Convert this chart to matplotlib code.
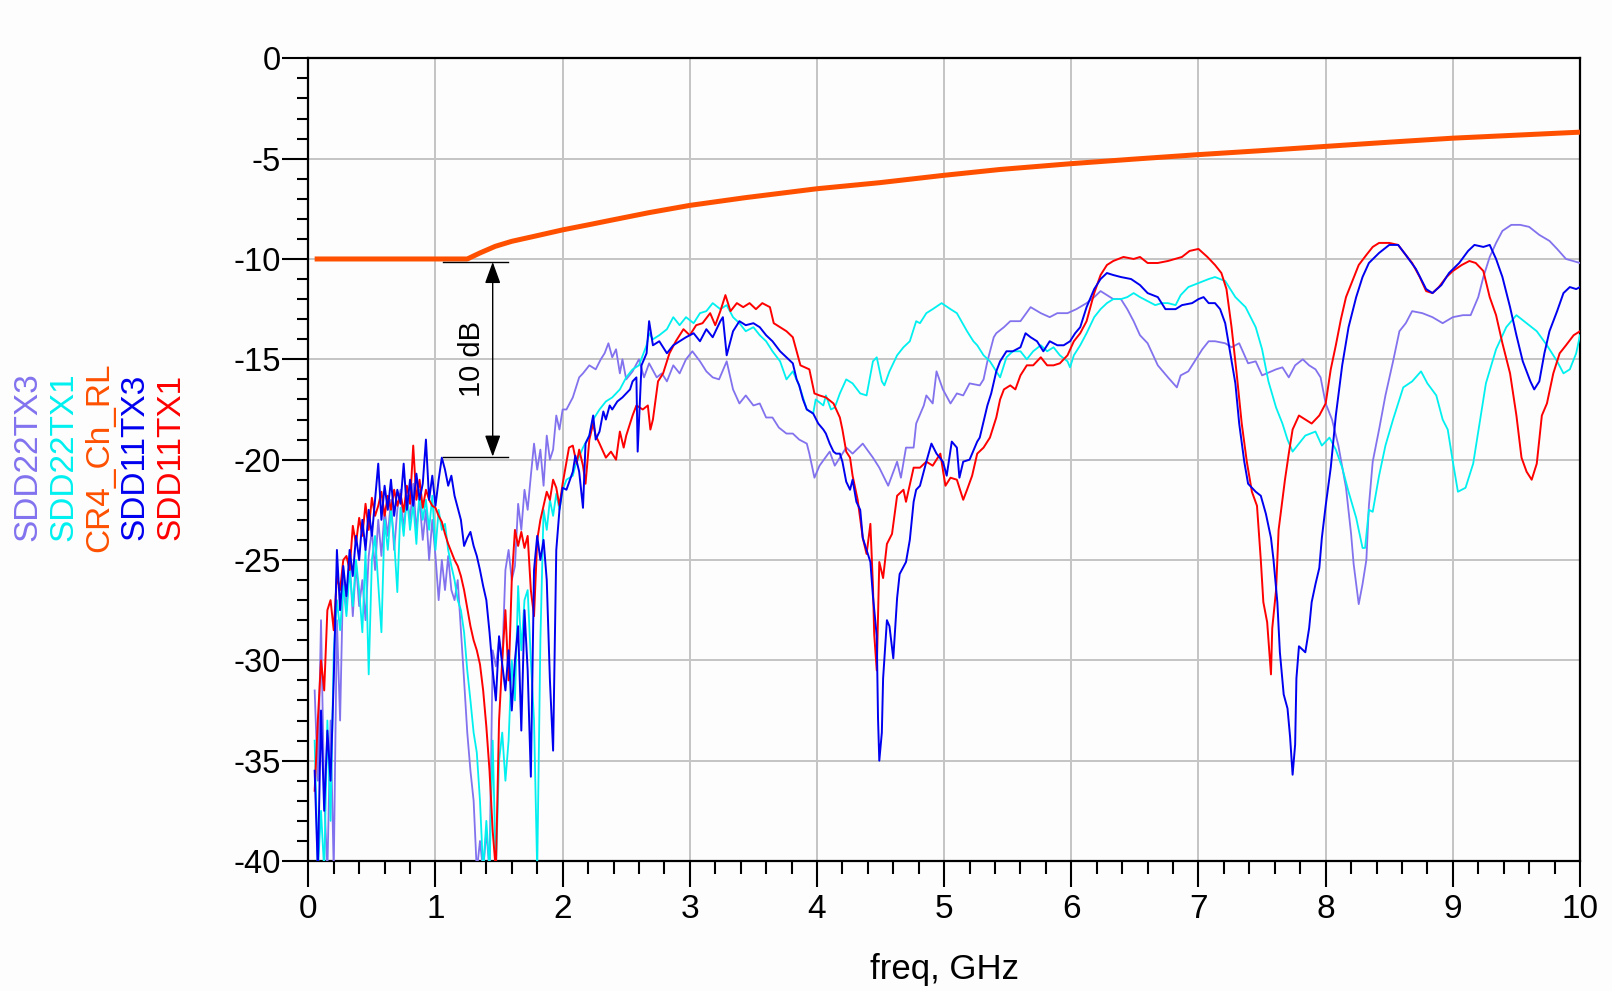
import numpy as np
import matplotlib
matplotlib.use("Agg")
import matplotlib.pyplot as plt
from matplotlib.ticker import MultipleLocator

plt.rcParams['font.family'] = ['Liberation Sans', 'DejaVu Sans']
plt.rcParams['axes.unicode_minus'] = False

# ---------------- data ----------------
X_TICKS = [0, 1, 2, 3, 4, 5, 6, 7, 8, 9, 10]
Y_TICKS = [0, -5, -10, -15, -20, -25, -30, -35, -40]
SERIES_NAMES = ["SDD22TX3", "SDD22TX1", "CR4_Ch_RL", "SDD11TX3", "SDD11TX1"]

# low band 0.05 .. 2.0 GHz, 0.025 GHz steps
SDD11TX1_LO = [-36.5, -33.0, -30.0, -31.5, -27.5, -27.0, -28.5, -25.8, -26.5, -25.0,
               -24.8, -25.5, -23.3, -24.2, -22.9, -23.8, -22.2, -23.5, -21.9, -22.8,
               -22.3, -21.6, -22.8, -21.8, -22.5, -21.5, -22.3, -21.7, -22.6, -21.3,
               -22.2, -19.3, -22.0, -21.0, -22.4, -21.5, -22.0, -22.3, -22.4, -22.8,
               -23.1, -23.7, -24.2, -24.6, -25.0, -25.3, -25.8, -26.5, -27.4, -28.3,
               -29.0, -29.5, -30.2, -31.5, -33.3, -35.5, -38.5, -40.5, -33.0, -30.0,
               -27.5, -31.0, -26.0, -23.5, -24.3, -23.6, -24.4, -23.8, -26.5, -27.8,
               -24.0, -23.0, -22.3, -21.6, -22.0, -21.0, -21.4, -22.3, -21.2]
SDD11TX3_LO = [-35.5, -40.5, -32.5, -37.5, -33.5, -36.0, -31.0, -24.5, -27.5, -25.3,
               -26.8, -24.5, -25.8, -23.8, -25.0, -23.0, -24.5, -22.5, -23.8, -22.0,
               -20.2, -23.0, -21.3, -22.5, -21.0, -22.8, -21.5, -22.2, -20.2, -22.5,
               -21.0, -22.3, -20.7, -22.0, -21.2, -19.0, -22.0, -20.8, -22.3, -21.0,
               -19.9, -20.5, -21.3, -20.8, -21.8, -22.4, -23.0, -24.3, -23.9, -23.6,
               -24.3, -24.8, -25.5, -26.3, -27.0, -28.6, -30.5, -32.0, -28.8, -30.2,
               -31.5, -29.5, -32.5, -30.0, -28.3, -33.5, -27.5, -30.5, -35.8, -25.5,
               -23.8, -25.0, -24.0, -26.0, -31.0, -34.5, -24.5, -22.5, -21.4]
SDD22TX1_LO = [-34.0, -40.5, -37.5, -40.5, -33.0, -38.0, -29.6, -27.0, -28.5, -26.3,
               -27.8, -25.5, -27.3, -25.0, -26.5, -28.6, -24.5, -30.7, -25.0, -23.8,
               -26.2, -28.6, -23.0, -24.5, -22.5, -24.0, -26.6, -22.4, -23.8, -21.8,
               -23.5, -22.2, -24.2, -21.5, -23.0, -22.0, -23.5, -21.8, -24.5, -22.5,
               -23.5, -23.2, -24.5, -25.3, -26.0, -27.0, -27.5, -28.6, -30.5, -32.0,
               -33.6, -34.6, -37.0, -40.5, -38.0, -40.5, -34.0, -40.5, -35.0, -33.6,
               -36.0, -34.0, -30.0, -32.0, -26.3, -29.5, -27.0, -26.5, -30.0, -33.0,
               -40.5, -29.0, -22.5, -23.5, -22.0, -22.8, -21.7, -22.5, -21.5]
SDD22TX3_LO = [-31.5, -36.0, -28.0, -36.8, -40.5, -33.0, -40.5, -28.0, -33.0, -25.5,
               -27.5, -25.0, -27.8, -25.2, -27.3, -26.0, -28.0, -24.8, -23.5, -25.5,
               -23.0, -24.8, -22.5, -23.8, -22.0, -24.5, -22.5, -21.5, -23.5, -21.8,
               -23.0, -21.2, -23.5, -22.0, -24.0, -22.5, -25.0, -23.0, -24.8, -27.0,
               -25.0, -26.5, -24.8, -26.5, -27.0, -26.0, -28.5, -31.0, -33.6, -35.5,
               -37.0, -40.5, -39.0, -40.5, -38.5, -40.5, -29.5, -30.3, -29.0, -30.0,
               -25.5, -24.5, -26.0, -25.3, -22.2, -23.5, -21.5, -22.5, -20.8, -19.2,
               -20.5, -19.5, -21.3, -18.8, -20.0, -19.5, -17.8, -18.5, -17.5]

# high band (> 2 GHz), read point by point
SDD11TX1_F_HI = [2.05, 2.08, 2.11, 2.13, 2.16, 2.18, 2.21, 2.24, 2.26, 2.29, 2.34, 2.38, 2.42, 2.45, 2.48,
                 2.5, 2.55, 2.58, 2.63, 2.67, 2.69, 2.71, 2.75, 2.79, 2.84, 2.89, 2.95, 3.0, 3.05, 3.1,
                 3.16, 3.2, 3.24, 3.28, 3.32, 3.37, 3.42, 3.47, 3.52, 3.57, 3.63, 3.66, 3.71, 3.76, 3.81,
                 3.84, 3.87, 3.94, 3.98, 4.02, 4.07, 4.13, 4.18, 4.2, 4.23, 4.26, 4.28, 4.32, 4.36, 4.39,
                 4.42, 4.44, 4.45, 4.47, 4.49, 4.52, 4.55, 4.59, 4.63, 4.68, 4.7, 4.76, 4.81, 4.86, 4.91,
                 4.97, 5.01, 5.05, 5.1, 5.15, 5.18, 5.22, 5.26, 5.31, 5.36, 5.41, 5.44, 5.47, 5.52, 5.56,
                 5.6, 5.65, 5.7, 5.76, 5.81, 5.86, 5.91, 5.97, 6.02, 6.07, 6.12, 6.18, 6.23, 6.28, 6.33,
                 6.41, 6.49, 6.54, 6.6, 6.68, 6.76, 6.87, 6.93, 7.0, 7.07, 7.13, 7.18, 7.22, 7.26, 7.3,
                 7.34, 7.38, 7.42, 7.46, 7.49, 7.51, 7.54, 7.57, 7.58, 7.61, 7.63, 7.66, 7.68, 7.71, 7.74,
                 7.79, 7.84, 7.89, 7.95, 8.0, 8.04, 8.08, 8.12, 8.16, 8.21, 8.26, 8.32, 8.37, 8.42, 8.5,
                 8.57, 8.63, 8.68, 8.74, 8.79, 8.84, 8.89, 8.95, 9.0, 9.07, 9.13, 9.18, 9.24, 9.29, 9.34,
                 9.39, 9.45, 9.5, 9.54, 9.58, 9.62, 9.66, 9.7, 9.74, 9.79, 9.84, 9.89, 9.95, 10.0]
SDD11TX1_DB_HI = [-19.4, -19.3, -20.2, -19.5, -20.3, -21.2, -19.0, -18.2, -18.8, -19.2, -19.9, -19.6, -20.0, -18.6, -19.4,
                  -18.8, -17.8, -17.3, -17.5, -17.3, -18.5, -18.0, -16.1, -15.7, -14.7, -14.1, -13.5, -13.8, -13.3, -13.2,
                  -12.7, -13.3, -12.6, -11.8, -12.6, -12.2, -12.4, -12.2, -12.5, -12.2, -12.4, -13.2, -13.4, -13.6, -13.9,
                  -14.6, -15.3, -15.5, -16.7, -16.8, -16.9, -17.2, -17.9, -18.5, -19.6, -19.9, -20.8, -22.0, -23.9, -24.7,
                  -23.2, -26.3, -28.7, -30.5, -25.1, -25.9, -24.2, -23.7, -21.8, -21.5, -22.1, -20.4, -20.4, -20.1, -20.3,
                  -19.7, -21.3, -20.9, -21.0, -22.0, -21.5, -20.8, -19.7, -19.4, -18.9, -17.9, -17.0, -16.5, -16.3, -16.5,
                  -15.8, -15.3, -15.3, -14.9, -15.3, -15.3, -15.2, -14.8, -14.1, -13.7, -13.1, -11.7, -10.8, -10.3, -10.1,
                  -9.9, -10.0, -9.9, -10.2, -10.2, -10.1, -9.9, -9.6, -9.5, -9.9, -10.3, -10.7, -11.5, -13.4, -15.7,
                  -18.2, -20.1, -21.6, -22.3, -25.0, -27.1, -28.1, -30.7, -28.4, -26.5, -23.5, -22.0, -21.0, -19.7, -18.5,
                  -17.8, -18.0, -18.2, -17.8, -17.2, -15.5, -14.3, -13.0, -11.9, -11.1, -10.3, -9.8, -9.4, -9.2, -9.2,
                  -9.3, -9.8, -10.2, -10.9, -11.6, -11.7, -11.4, -10.9, -10.6, -10.3, -10.1, -10.2, -10.6, -11.9, -12.8,
                  -14.2, -15.7, -17.8, -19.9, -20.6, -21.0, -20.2, -17.8, -17.2, -15.7, -14.7, -14.3, -13.8, -13.6]

SDD11TX3_F_HI = [2.03, 2.08, 2.1, 2.13, 2.16, 2.18, 2.21, 2.24, 2.26, 2.29, 2.32, 2.34, 2.37, 2.39, 2.43,
                 2.47, 2.53, 2.55, 2.58, 2.59, 2.62, 2.66, 2.68, 2.71, 2.76, 2.82, 2.87, 2.92, 2.97, 3.03,
                 3.08, 3.13, 3.18, 3.24, 3.26, 3.29, 3.34, 3.39, 3.44, 3.5, 3.55, 3.6, 3.65, 3.71, 3.76,
                 3.81, 3.84, 3.86, 3.89, 3.92, 3.97, 4.01, 4.05, 4.07, 4.1, 4.13, 4.15, 4.18, 4.2, 4.23,
                 4.26, 4.28, 4.31, 4.34, 4.36, 4.39, 4.42, 4.44, 4.47, 4.48, 4.49, 4.51, 4.52, 4.55, 4.57,
                 4.6, 4.63, 4.65, 4.7, 4.73, 4.76, 4.78, 4.81, 4.86, 4.9, 4.94, 4.99, 5.02, 5.06, 5.1,
                 5.12, 5.15, 5.2, 5.26, 5.28, 5.34, 5.37, 5.41, 5.44, 5.49, 5.54, 5.6, 5.64, 5.68, 5.73,
                 5.78, 5.83, 5.89, 5.94, 5.99, 6.03, 6.07, 6.12, 6.18, 6.23, 6.28, 6.33, 6.39, 6.47, 6.54,
                 6.6, 6.68, 6.74, 6.82, 6.87, 6.95, 7.0, 7.04, 7.08, 7.13, 7.17, 7.21, 7.25, 7.29, 7.32,
                 7.36, 7.39, 7.45, 7.49, 7.53, 7.57, 7.59, 7.62, 7.64, 7.67, 7.7, 7.72, 7.74, 7.76, 7.77,
                 7.79, 7.84, 7.87, 7.89, 7.92, 7.95, 7.97, 8.0, 8.04, 8.08, 8.13, 8.18, 8.24, 8.29, 8.34,
                 8.42, 8.5, 8.57, 8.63, 8.71, 8.79, 8.84, 8.91, 8.97, 9.05, 9.12, 9.17, 9.24, 9.29, 9.34,
                 9.39, 9.45, 9.5, 9.55, 9.61, 9.64, 9.68, 9.72, 9.76, 9.82, 9.87, 9.92, 9.97, 10.0]
SDD11TX3_DB_HI = [-21.5, -20.6, -19.8, -20.6, -22.4, -19.2, -18.8, -17.8, -19.0, -18.6, -17.6, -18.0, -17.3, -17.5, -17.1,
                  -16.9, -16.5, -16.1, -15.9, -19.6, -15.3, -14.7, -13.1, -14.3, -14.1, -14.7, -14.3, -14.1, -13.9, -13.7,
                  -14.1, -13.5, -13.9, -13.1, -12.9, -14.8, -13.6, -13.1, -13.3, -13.2, -13.4, -13.8, -14.1, -14.6, -14.9,
                  -15.2, -16.0, -16.3, -17.0, -17.5, -17.7, -18.2, -18.5, -18.7, -19.2, -19.6, -19.7, -19.7, -20.1, -21.1,
                  -21.5, -21.0, -22.1, -22.5, -23.9, -24.5, -25.1, -26.8, -28.8, -32.9, -35.0, -33.6, -30.9, -28.0, -28.3,
                  -29.9, -26.9, -25.7, -25.1, -24.0, -22.1, -21.5, -21.3, -20.1, -19.2, -19.7, -20.1, -20.8, -19.1, -19.4,
                  -20.9, -20.1, -20.0, -19.1, -18.9, -17.3, -16.7, -15.6, -15.1, -14.6, -14.6, -14.4, -13.7, -13.9, -14.1,
                  -14.6, -14.1, -14.3, -14.3, -14.1, -13.7, -13.4, -12.4, -11.5, -11.0, -10.7, -10.8, -10.9, -11.0, -11.3,
                  -11.7, -11.9, -12.5, -12.5, -12.3, -12.2, -12.0, -11.9, -12.2, -12.2, -12.5, -13.2, -14.7, -16.2, -18.2,
                  -20.1, -21.2, -21.6, -21.8, -22.7, -23.9, -25.0, -27.1, -29.6, -31.7, -32.4, -33.8, -35.7, -34.2, -30.9,
                  -29.3, -29.6, -28.4, -27.1, -26.2, -25.4, -23.9, -22.3, -20.4, -17.8, -15.3, -13.4, -11.9, -10.9, -10.2,
                  -9.7, -9.3, -9.3, -9.8, -10.5, -11.5, -11.7, -11.3, -10.7, -10.2, -9.6, -9.3, -9.4, -9.3, -10.0,
                  -10.9, -12.4, -13.8, -15.1, -16.1, -16.5, -16.1, -14.7, -13.6, -12.6, -11.7, -11.4, -11.5, -11.4]

SDD22TX1_F_HI = [2.03, 2.08, 2.1, 2.16, 2.21, 2.24, 2.29, 2.34, 2.39, 2.45, 2.5, 2.55, 2.6, 2.66, 2.68,
                 2.71, 2.76, 2.82, 2.87, 2.92, 2.97, 3.03, 3.08, 3.13, 3.18, 3.24, 3.29, 3.34, 3.39, 3.44,
                 3.5, 3.55, 3.6, 3.65, 3.71, 3.76, 3.81, 3.86, 3.92, 3.97, 3.99, 4.05, 4.07, 4.11, 4.14,
                 4.18, 4.23, 4.28, 4.34, 4.39, 4.44, 4.47, 4.51, 4.53, 4.57, 4.63, 4.68, 4.73, 4.78, 4.81,
                 4.86, 4.91, 4.98, 5.05, 5.1, 5.18, 5.23, 5.26, 5.31, 5.36, 5.41, 5.44, 5.49, 5.54, 5.6,
                 5.65, 5.7, 5.76, 5.81, 5.86, 5.91, 5.97, 5.99, 6.02, 6.07, 6.12, 6.18, 6.23, 6.28, 6.33,
                 6.39, 6.44, 6.49, 6.54, 6.6, 6.66, 6.71, 6.76, 6.82, 6.86, 6.92, 7.0, 7.08, 7.13, 7.21,
                 7.29, 7.37, 7.45, 7.5, 7.55, 7.61, 7.66, 7.7, 7.74, 7.79, 7.84, 7.92, 7.97, 8.03, 8.08,
                 8.13, 8.18, 8.24, 8.29, 8.31, 8.34, 8.37, 8.42, 8.47, 8.53, 8.61, 8.68, 8.75, 8.8, 8.87,
                 8.92, 8.96, 9.0, 9.04, 9.1, 9.16, 9.21, 9.26, 9.34, 9.42, 9.5, 9.58, 9.66, 9.74, 9.82,
                 9.87, 9.92, 9.97, 10.0]
SDD22TX1_DB_HI = [-21.0, -20.8, -20.3, -19.4, -18.8, -18.0, -17.5, -17.1, -16.9, -16.5, -15.9, -15.5, -15.3, -14.3, -13.7,
                  -14.0, -13.8, -13.5, -12.9, -13.3, -12.9, -13.2, -12.7, -12.6, -12.2, -12.5, -12.3, -12.9, -13.2, -13.6,
                  -13.4, -13.8, -14.1, -14.6, -15.1, -16.0, -15.6, -16.3, -17.5, -17.7, -17.0, -17.3, -16.8, -17.5, -17.4,
                  -16.7, -16.0, -16.2, -16.7, -16.8, -15.1, -14.9, -16.1, -16.3, -15.6, -14.8, -14.4, -14.1, -13.1, -13.2,
                  -12.7, -12.5, -12.2, -12.5, -12.7, -13.6, -14.1, -14.3, -14.8, -15.1, -15.6, -15.9, -14.9, -14.6, -14.6,
                  -15.0, -14.6, -14.3, -14.6, -14.4, -14.8, -15.1, -15.4, -14.8, -14.3, -13.7, -12.9, -12.5, -12.2, -12.0,
                  -12.0, -11.9, -11.7, -11.9, -12.1, -12.3, -12.2, -12.2, -12.3, -11.8, -11.4, -11.2, -11.0, -10.9, -11.1,
                  -11.9, -12.4, -13.4, -14.5, -16.1, -17.4, -18.2, -19.0, -19.6, -19.2, -18.8, -18.6, -19.3, -18.9, -19.5,
                  -20.4, -21.6, -22.9, -24.4, -24.4, -22.5, -22.6, -20.8, -19.3, -18.0, -16.4, -16.1, -15.6, -16.2, -16.8,
                  -18.0, -18.5, -20.1, -21.6, -21.4, -20.2, -18.2, -16.2, -14.5, -13.4, -12.8, -13.2, -13.6, -14.3, -15.1,
                  -15.7, -15.5, -14.7, -13.8]

SDD22TX3_F_HI = [2.03, 2.08, 2.13, 2.16, 2.21, 2.26, 2.3, 2.33, 2.36, 2.39, 2.42, 2.45, 2.47, 2.5, 2.55,
                 2.6, 2.64, 2.68, 2.74, 2.78, 2.82, 2.87, 2.92, 2.97, 3.02, 3.08, 3.13, 3.18, 3.23, 3.29,
                 3.34, 3.39, 3.44, 3.5, 3.55, 3.6, 3.65, 3.7, 3.76, 3.81, 3.86, 3.92, 3.94, 3.98, 4.02,
                 4.1, 4.14, 4.18, 4.23, 4.28, 4.36, 4.44, 4.49, 4.56, 4.63, 4.66, 4.7, 4.76, 4.78, 4.84,
                 4.86, 4.91, 4.94, 4.99, 5.05, 5.1, 5.15, 5.2, 5.28, 5.31, 5.34, 5.39, 5.41, 5.47, 5.52,
                 5.6, 5.68, 5.76, 5.83, 5.89, 5.97, 6.04, 6.12, 6.18, 6.23, 6.28, 6.33, 6.39, 6.44, 6.49,
                 6.54, 6.6, 6.68, 6.76, 6.83, 6.86, 6.92, 6.97, 7.03, 7.08, 7.13, 7.21, 7.26, 7.32, 7.39,
                 7.45, 7.5, 7.61, 7.66, 7.71, 7.76, 7.82, 7.87, 7.92, 7.96, 8.0, 8.05, 8.1, 8.16, 8.2,
                 8.22, 8.26, 8.29, 8.32, 8.34, 8.37, 8.42, 8.47, 8.53, 8.58, 8.63, 8.68, 8.76, 8.84, 8.92,
                 9.0, 9.08, 9.14, 9.2, 9.24, 9.29, 9.34, 9.39, 9.46, 9.53, 9.6, 9.68, 9.76, 9.82, 9.89,
                 10.0]
SDD22TX3_DB_HI = [-17.5, -16.9, -15.9, -15.7, -15.3, -15.5, -15.0, -14.7, -14.2, -14.9, -14.5, -15.7, -15.0, -16.0, -15.6,
                  -15.0, -15.9, -15.2, -15.9, -15.7, -16.1, -15.3, -15.7, -15.0, -14.6, -15.1, -15.6, -15.9, -16.0, -15.1,
                  -16.5, -17.2, -16.8, -17.3, -17.2, -17.9, -17.9, -18.4, -18.7, -18.7, -19.0, -19.2, -19.7, -20.9, -20.3,
                  -19.6, -20.3, -19.9, -19.4, -19.7, -19.2, -19.9, -20.4, -21.3, -20.1, -20.9, -19.4, -19.4, -18.2, -17.3,
                  -16.8, -17.2, -15.6, -16.5, -17.2, -16.7, -16.8, -16.2, -16.3, -16.0, -15.1, -13.9, -13.7, -13.4, -13.1,
                  -13.1, -12.4, -12.7, -12.9, -12.7, -12.7, -12.5, -12.2, -11.9, -11.6, -11.8, -12.0, -12.0, -12.5, -13.1,
                  -13.8, -14.2, -15.3, -15.9, -16.4, -15.8, -15.6, -15.1, -14.5, -14.1, -14.1, -14.2, -14.4, -14.2, -15.2,
                  -15.1, -15.8, -15.5, -15.4, -15.9, -15.3, -15.0, -15.3, -15.5, -15.9, -17.2, -18.0, -19.3, -21.4, -23.7,
                  -25.2, -27.2, -26.2, -25.0, -22.3, -20.1, -18.5, -16.8, -15.1, -13.6, -13.2, -12.6, -12.7, -12.9, -13.2,
                  -12.9, -12.8, -12.8, -11.9, -10.9, -9.9, -9.2, -8.6, -8.3, -8.3, -8.4, -8.8, -9.1, -9.5, -10.0,
                  -10.2]

CR4_F = [0.05, 0.5, 1.0, 1.25, 1.35, 1.47, 1.6, 1.77, 2.0, 2.2, 2.38, 2.68, 3.0, 3.43, 4.0,
         4.49, 5.0, 5.44, 6.0, 6.5, 7.0, 7.5, 8.0, 8.5, 9.0, 9.5, 10.0]
CR4_DB = [-10.0, -10.0, -10.0, -10.0, -9.7, -9.37, -9.12, -8.88, -8.55, -8.3, -8.07, -7.69, -7.33, -6.95, -6.5,
          -6.2, -5.83, -5.54, -5.25, -5.02, -4.8, -4.6, -4.39, -4.18, -3.98, -3.83, -3.68]

COLORS = {"SDD22TX3": "#8272ee", "SDD22TX1": "#00f0f0", "CR4_Ch_RL": "#ff5000",
          "SDD11TX3": "#0000f0", "SDD11TX1": "#ff0000"}


def full_series(lo, f_hi, db_hi):
    f_lo = np.linspace(0.05, 2.0, len(lo))
    return np.concatenate([f_lo, np.asarray(f_hi)]), np.concatenate([np.asarray(lo), np.asarray(db_hi)])


W, H = 1612, 991
fig = plt.figure(figsize=(W / 100, H / 100), dpi=100)
bg = "#fcfdfc"
fig.patch.set_facecolor(bg)
L, R, T, B = 308.3, 1580.0, 58.3, 861.0
ax = fig.add_axes([L / W, 1 - B / H, (R - L) / W, (B - T) / H])
ax.set_facecolor(bg)

ax.set_xlim(0, 10)
ax.set_ylim(-40, 0)
ax.set_xticks(X_TICKS)
ax.set_yticks(Y_TICKS)
ax.set_xticklabels([str(v) for v in X_TICKS])
ax.set_yticklabels([str(v) for v in Y_TICKS])
ax.xaxis.set_minor_locator(MultipleLocator(0.2))
ax.yaxis.set_minor_locator(MultipleLocator(1))
ax.tick_params(axis='both', which='major', direction='out', length=18.5, width=1.5, color='black')
ax.tick_params(axis='y', which='major', labelsize=23.5, pad=1)
ax.tick_params(axis='x', which='major', labelsize=24, pad=5)
ax.tick_params(axis='y', which='minor', direction='out', length=8, width=1.5)
ax.tick_params(axis='x', which='minor', direction='out', length=9.5, width=1.5)
for s in ax.spines.values():
    s.set_linewidth(1.6)
    s.set_color('black')
ax.grid(True, which='major', color='#c4c4c4', linewidth=1.4)
ax.set_axisbelow(True)

# traces
f, d = full_series(SDD22TX3_LO, SDD22TX3_F_HI, SDD22TX3_DB_HI)
ax.plot(f, d, color=COLORS["SDD22TX3"], lw=1.3, zorder=3)
f, d = full_series(SDD22TX1_LO, SDD22TX1_F_HI, SDD22TX1_DB_HI)
ax.plot(f, d, color=COLORS["SDD22TX1"], lw=1.3, zorder=3)
f, d = full_series(SDD11TX1_LO, SDD11TX1_F_HI, SDD11TX1_DB_HI)
ax.plot(f, d, color=COLORS["SDD11TX1"], lw=1.4, zorder=4)
f, d = full_series(SDD11TX3_LO, SDD11TX3_F_HI, SDD11TX3_DB_HI)
ax.plot(f, d, color=COLORS["SDD11TX3"], lw=1.4, zorder=5)
ax.plot(CR4_F, CR4_DB, color=COLORS["CR4_Ch_RL"], lw=3.6, zorder=6, solid_capstyle='butt')

# 10 dB annotation
ax.plot([1.06, 1.57], [-10.15, -10.15], color='black', lw=1.0, zorder=7)
ax.plot([1.06, 1.57], [-19.85, -19.85], color='black', lw=1.0, zorder=7)
ax.annotate('', xy=(1.45, -10.15), xytext=(1.45, -19.85),
            arrowprops=dict(arrowstyle='<|-|>,head_length=0.55,head_width=0.2',
                            mutation_scale=24, color='black', lw=1.0,
                            shrinkA=0, shrinkB=0), zorder=7)
ax.text(1.285, -15.0, '10 dB', rotation=90, ha='center', va='center', fontsize=21, zorder=7)

# x label
ax.set_xlabel('freq, GHz', fontsize=25)
ax.xaxis.label.set_va('center')
ax.xaxis.set_label_coords(0.5, (B - 970) / (B - T))

# legend (vertical coloured names)
leg_x = [27.8, 63.7, 99.7, 134.7, 170.6]
for name, xp in zip(SERIES_NAMES, leg_x):
    fig.text(xp / W, 1 - 457 / H, name, rotation=90, ha='center', va='center',
             fontsize=24, color=COLORS[name])

fig.savefig('out.png', dpi=100, facecolor=bg)
